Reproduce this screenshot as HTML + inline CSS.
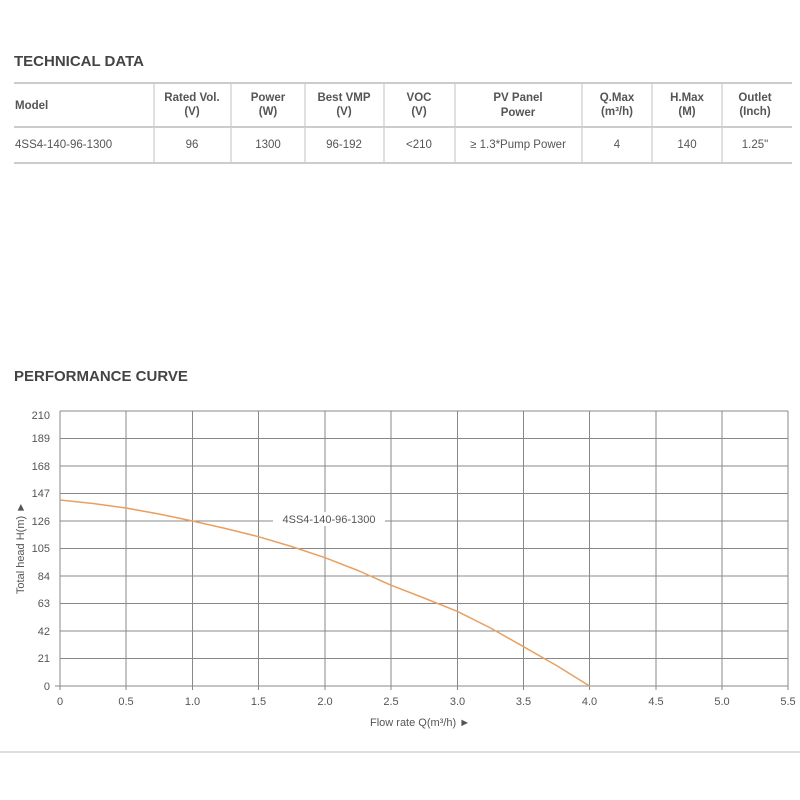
<!DOCTYPE html><html><head><style>body{margin:0;background:#fff}svg{display:block}</style></head><body>
<svg width="800" height="800" xmlns="http://www.w3.org/2000/svg" font-family="Liberation Sans, sans-serif">
<text x="14" y="66" font-size="15" font-weight="bold" fill="#444">TECHNICAL DATA</text>
<g stroke="#ccc" stroke-width="2"><line x1="14" y1="83" x2="792" y2="83"/><line x1="14" y1="163" x2="792" y2="163"/></g>
<line x1="14" y1="127" x2="792" y2="127" stroke="#bbb" stroke-width="1.5"/>
<g stroke="#ccc" stroke-width="1.2"><line x1="154" y1="83" x2="154" y2="163"/><line x1="231" y1="83" x2="231" y2="163"/><line x1="305" y1="83" x2="305" y2="163"/><line x1="384" y1="83" x2="384" y2="163"/><line x1="455" y1="83" x2="455" y2="163"/><line x1="582" y1="83" x2="582" y2="163"/><line x1="652" y1="83" x2="652" y2="163"/><line x1="722" y1="83" x2="722" y2="163"/></g>
<g font-size="11.5" fill="#555" font-weight="bold" text-anchor="middle">
<text x="15" y="109" text-anchor="start">Model</text>
<text x="192" y="101">Rated Vol.</text><text x="192" y="115">(V)</text>
<text x="268" y="101">Power</text><text x="268" y="115">(W)</text>
<text x="344" y="101">Best VMP</text><text x="344" y="115">(V)</text>
<text x="419" y="101">VOC</text><text x="419" y="115">(V)</text>
<text x="518" y="101">PV Panel</text><text x="518" y="116">Power</text>
<text x="617" y="101">Q.Max</text><text x="617" y="115">(m³/h)</text>
<text x="687" y="101">H.Max</text><text x="687" y="115">(M)</text>
<text x="755" y="101">Outlet</text><text x="755" y="115">(Inch)</text>
</g>
<g font-size="11.5" fill="#555" text-anchor="middle">
<text x="15" y="148" text-anchor="start">4SS4-140-96-1300</text>
<text x="192" y="148">96</text><text x="268" y="148">1300</text><text x="344" y="148">96-192</text><text x="419" y="148">&lt;210</text><text x="518" y="148">≥ 1.3*Pump Power</text><text x="617" y="148">4</text><text x="687" y="148">140</text><text x="755" y="148">1.25"</text>
</g>
<text x="14" y="381" font-size="15" font-weight="bold" fill="#444">PERFORMANCE CURVE</text>
<g stroke="#888" stroke-width="1">
<line x1="60" y1="411" x2="788" y2="411"/><line x1="60" y1="438.5" x2="788" y2="438.5"/><line x1="60" y1="466" x2="788" y2="466"/><line x1="60" y1="493.5" x2="788" y2="493.5"/><line x1="60" y1="521" x2="788" y2="521"/><line x1="60" y1="548.5" x2="788" y2="548.5"/><line x1="60" y1="576" x2="788" y2="576"/><line x1="60" y1="603.5" x2="788" y2="603.5"/><line x1="60" y1="631" x2="788" y2="631"/><line x1="60" y1="658.5" x2="788" y2="658.5"/><line x1="55" y1="686" x2="788" y2="686"/>
<line x1="60" y1="411" x2="60" y2="690"/><line x1="126" y1="411" x2="126" y2="690"/><line x1="192.5" y1="411" x2="192.5" y2="690"/><line x1="258.5" y1="411" x2="258.5" y2="690"/><line x1="325" y1="411" x2="325" y2="690"/><line x1="391" y1="411" x2="391" y2="690"/><line x1="457.5" y1="411" x2="457.5" y2="690"/><line x1="523.5" y1="411" x2="523.5" y2="690"/><line x1="589.5" y1="411" x2="589.5" y2="690"/><line x1="656" y1="411" x2="656" y2="690"/><line x1="722" y1="411" x2="722" y2="690"/><line x1="788" y1="411" x2="788" y2="690"/>
</g>
<g font-size="11" fill="#555" text-anchor="end">
<text x="50" y="419">210</text><text x="50" y="442">189</text><text x="50" y="470">168</text><text x="50" y="497">147</text><text x="50" y="525">126</text><text x="50" y="552">105</text><text x="50" y="580">84</text><text x="50" y="607">63</text><text x="50" y="635">42</text><text x="50" y="662">21</text><text x="50" y="690">0</text>
</g>
<g font-size="11" fill="#555" text-anchor="middle">
<text x="60" y="705">0</text><text x="126" y="705">0.5</text><text x="192.5" y="705">1.0</text><text x="258.5" y="705">1.5</text><text x="325" y="705">2.0</text><text x="391" y="705">2.5</text><text x="457.5" y="705">3.0</text><text x="523.5" y="705">3.5</text><text x="589.5" y="705">4.0</text><text x="656" y="705">4.5</text><text x="722" y="705">5.0</text><text x="788" y="705">5.5</text>
</g>
<text x="370" y="726" font-size="11" fill="#555">Flow rate Q(m³/h) ►</text>
<text transform="translate(24,548) rotate(-90)" font-size="11" fill="#555" text-anchor="middle">Total head H(m) ►</text>
<rect x="273" y="512" width="112" height="14" fill="#fff"/>
<text x="329" y="523" font-size="11" fill="#555" text-anchor="middle">4SS4-140-96-1300</text>
<polyline points="60,500 93,503.5 126,508 159,514 192.5,521 225.5,528.5 258.5,536.7 291.5,546.5 325,557.7 358,570.5 391,585.2 424,598 457.5,611.4 490.5,628 523.5,646.7 556.5,665.5 589.5,686" fill="none" stroke="#e8a060" stroke-width="1.5" stroke-linejoin="round"/>
<line x1="0" y1="752" x2="800" y2="752" stroke="#bbb" stroke-width="1"/>
</svg></body></html>
